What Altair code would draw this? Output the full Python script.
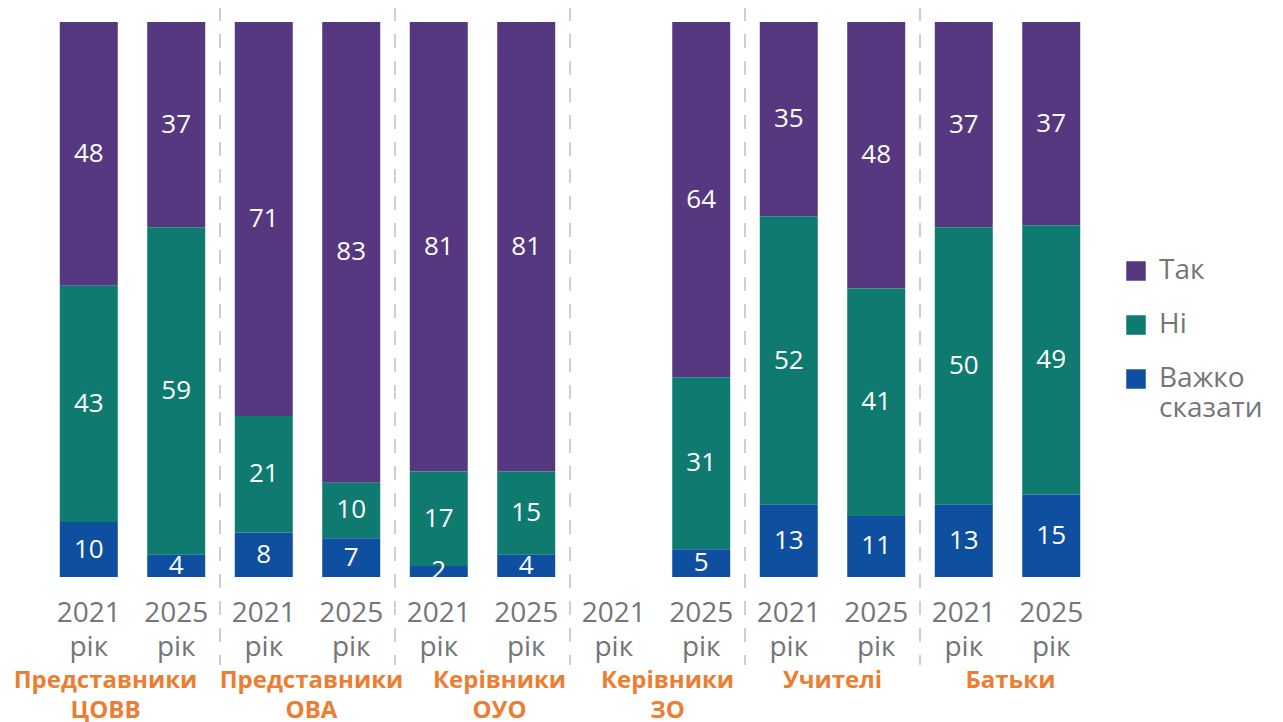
import altair as alt
import pandas as pd

groups = ["Представники ЦОВВ", "Представники ОВА", "Керівники ОУО", "Керівники ЗО", "Учителі", "Батьки"]
group_label_shift = [-27, 4, 17, 10, 0, 3]
years = ["2021 рік", "2025 рік"]
answers = ["Так", "Ні", "Важко сказати"]
colors = ["#553880", "#0E7A70", "#0E4FA0"]

tak_2021 = [48, 71, 81, None, 35, 37]
tak_2025 = [37, 83, 81, 64, 48, 37]
ni_2021 = [43, 21, 17, None, 52, 50]
ni_2025 = [59, 10, 15, 31, 41, 49]
vs_2021 = [10, 8, 2, None, 13, 13]
vs_2025 = [4, 7, 4, 5, 11, 15]

series = {
    ("Так", "2021 рік"): tak_2021, ("Так", "2025 рік"): tak_2025,
    ("Ні", "2021 рік"): ni_2021, ("Ні", "2025 рік"): ni_2025,
    ("Важко сказати", "2021 рік"): vs_2021, ("Важко сказати", "2025 рік"): vs_2025,
}
order_map = {"Важко сказати": 0, "Ні": 1, "Так": 2}

rows = []
for (ans, yr), vals in series.items():
    for g, v in zip(groups, vals):
        if v is not None:
            rows.append({"group": g, "year": yr, "answer": ans, "value": v, "order": order_map[ans]})
df = pd.DataFrame(rows)

slots = pd.DataFrame([{"group": g, "year": y} for g in groups for y in years])
seps = pd.DataFrame({"group": groups[1:]})

FONT = "Open Sans"
W, H = 1050, 555

label_offset = {
    "condition": [{"test": f"datum.value == '{g}'", "value": s}
                  for g, s in zip(groups, group_label_shift) if s != 0],
    "value": 0,
}

xenc = alt.X("group:N", sort=groups, title=None,
             scale=alt.Scale(paddingInner=0, paddingOuter=0),
             axis=alt.Axis(domain=False, ticks=False, labelPadding=91,
                           labelExpr="split(datum.label, ' ')",
                           labelFont=FONT, labelFontSize=24, labelFontWeight="bold",
                           labelColor="#ED7D31", labelLineHeight=30, labelBaseline="top",
                           labelAlign="center", labelAngle=0, labelLimit=300,
                           labelOffset=label_offset,
                           labelOverlap=False, labelBound=False, labelFlush=False))
xoff = alt.XOffset("year:N", sort=years,
                   scale=alt.Scale(paddingInner=0.337, paddingOuter=0.169))

base = alt.Chart(df).transform_stack(
    stack="value", groupby=["group", "year"], as_=["y0", "y1"],
    offset="normalize", sort=[alt.SortField("order", order="ascending")]
).transform_calculate(mid="(datum.y0 + datum.y1) / 2")

yscale = alt.Scale(domain=[0, 1], nice=False)

bars = base.mark_bar().encode(
    x=xenc, xOffset=xoff,
    y=alt.Y("y0:Q", scale=yscale, axis=None),
    y2="y1:Q",
    color=alt.Color("answer:N", sort=answers,
                    scale=alt.Scale(domain=answers, range=colors),
                    legend=alt.Legend(title=None, orient="none", legendX=1077, legendY=235,
                                      symbolType="square", symbolSize=380, symbolStrokeWidth=0,
                                      labelFont=FONT, labelFontSize=28, labelColor="#757575",
                                      labelOffset=9, rowPadding=26, labelLimit=300,
                                      labelExpr="datum.label == 'Важко сказати' ? ['Важко', 'сказати'] : datum.label")),
)

labels = base.mark_text(font=FONT, fontSize=26, color="white", baseline="middle").encode(
    x=xenc, xOffset=xoff,
    y=alt.Y("mid:Q", scale=yscale, axis=None),
    text=alt.Text("value:Q"),
)

yearlab = alt.Chart(slots).transform_calculate(
    txt="split(datum.year, ' ')"
).mark_text(font=FONT, fontSize=28, color="#757575", baseline="top", lineHeight=34).encode(
    x=xenc, xOffset=xoff,
    y=alt.value(H + 23),
    text="txt:N",
)

rules = alt.Chart(seps).mark_rule(color="#C0C0C0", strokeWidth=1.5, strokeDash=[14, 13]).encode(
    x=alt.X("group:N", sort=groups, bandPosition=0),
    y=alt.value(-15), y2=alt.value(H + 88),
)

chart = alt.layer(rules, bars, labels, yearlab).properties(
    width=W, height=H,
    autosize=alt.AutoSizeParams(type="none"),
    padding={"left": 37, "top": 14, "right": 180, "bottom": 145},
).configure_view(stroke=None)

chart.save("out.html", embed_options={"renderer": "svg", "actions": False})
